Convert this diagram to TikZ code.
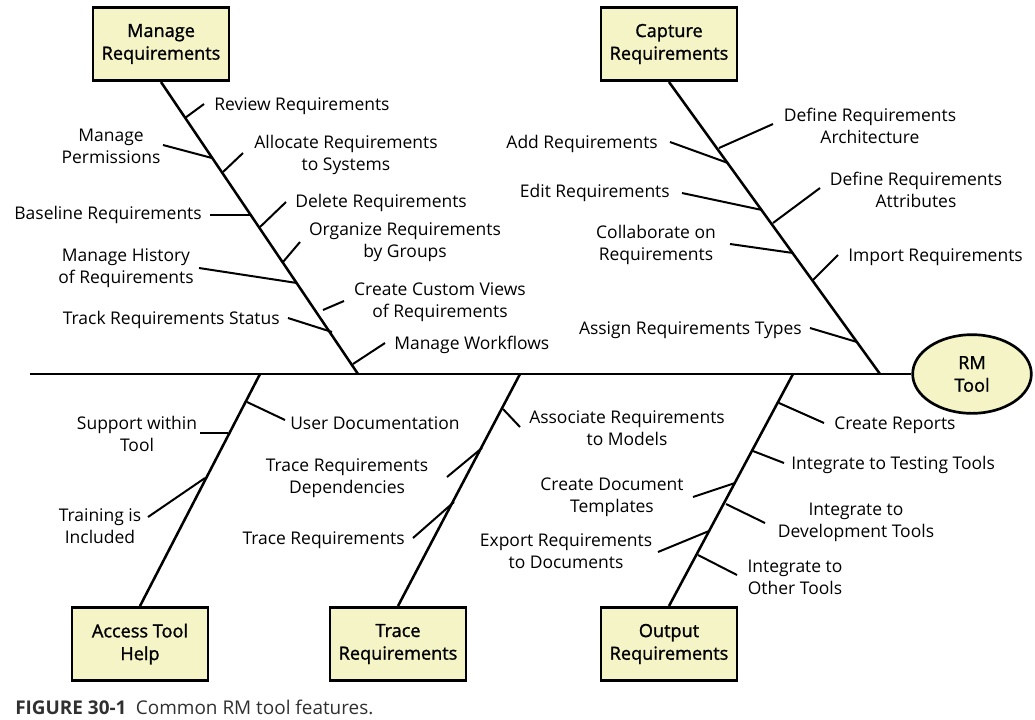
\documentclass[tikz,border=0pt]{standalone}
\usepackage{fontspec}
\setmainfont{Open Sans}
\usetikzlibrary{shapes.geometric}
\definecolor{boxfill}{HTML}{F4F4C6}
\definecolor{capgray}{HTML}{303030}
\newcommand{\featfont}{\fontsize{13.1}{16.5}\selectfont}
\newcommand{\headfont}{\fontsize{13.6}{17}\selectfont\addfontfeatures{FakeBold=1.3}}
\newcommand{\capfont}{\fontsize{14.2}{17}\selectfont}

\begin{document}
\begin{tikzpicture}[x=0.75pt,y=-0.75pt,
  causebox/.style={draw=black, line width=2pt, fill=boxfill, minimum width=102pt, minimum height=55pt, inner sep=0pt, align=center, font=\headfont},
  rmtool/.style={ellipse, draw=black, line width=2pt, fill=boxfill, minimum width=89pt, minimum height=59pt, inner sep=0pt, align=center, font=\headfont},
  spine/.style={line width=2pt},
  bone/.style={line width=1.9pt},
  tick/.style={line width=1.5pt},
  lbl/.style={inner sep=0pt, align=center, font=\featfont, text=black, yshift=-1.5pt}]
\useasboundingbox (0,0) rectangle (1035,719);

% head and spine
\node[rmtool] (rm) at (972,374) {RM\\Tool};
\coordinate (tail) at (30,374);
\draw[spine] (tail) -- (rm.west);

% cause boxes
\node[causebox] (mr) at (161,44) {Manage\\Requirements};
\node[causebox] (cr) at (669,44) {Capture\\Requirements};
\node[causebox] (ath) at (140,644) {Access Tool\\Help};
\node[causebox] (tr) at (398,644) {Trace\\Requirements};
\node[causebox] (or) at (669,644) {Output\\Requirements};

% bones
\coordinate (mrS) at (358,374);
\coordinate (crS) at (880,374);
\coordinate (athS) at (260,374);
\coordinate (trS) at (520,374);
\coordinate (orS) at (793,374);
\draw[bone] (mr.south) -- (mrS);
\draw[bone] (cr.south) -- (crS);
\draw[bone] (ath.north) -- (athS);
\draw[bone] (tr.north) -- (trS);
\draw[bone] (or.north) -- (orS);

% Manage Requirements
\node[lbl, anchor=west] (rvw) at (214,104) {Review Requirements};
\coordinate (rvwA) at (185,118); \coordinate (rvwB) at (204,104);
\draw[tick] (rvwA) -- (rvwB);
\node[lbl] (alloc) at (346,153) {Allocate Requirements\\to Systems};
\coordinate (allocA) at (223,172); \coordinate (allocB) at (243,153);
\draw[tick] (allocA) -- (allocB);
\node[lbl, anchor=west] (del) at (295,201) {Delete Requirements};
\coordinate (delA) at (260,227); \coordinate (delB) at (286,202);
\draw[tick] (delA) -- (delB);
\node[lbl] (org) at (405,240) {Organize Requirements\\by Groups};
\coordinate (orgA) at (283,262); \coordinate (orgB) at (300,242);
\draw[tick] (orgA) -- (orgB);
\node[lbl] (cust) at (440,300) {Create Custom Views\\of Requirements};
\coordinate (custA) at (323,310); \coordinate (custB) at (344,301);
\draw[tick] (custA) -- (custB);
\node[lbl, anchor=west] (wf) at (394,343) {Manage Workflows};
\coordinate (wfA) at (353,364); \coordinate (wfB) at (385,343);
\draw[tick] (wfA) -- (wfB);
\node[lbl] (perm) at (111,144) {Manage\\Permissions};
\coordinate (permA) at (212,158); \coordinate (permB) at (163,145);
\draw[tick] (permA) -- (permB);
\node[lbl, anchor=east] (base) at (202,213) {Baseline Requirements};
\coordinate (baseA) at (252,215); \coordinate (baseB) at (210,215);
\draw[tick] (baseA) -- (baseB);
\node[lbl] (hist) at (126,266) {Manage History\\of Requirements};
\coordinate (histA) at (297,283); \coordinate (histB) at (199,268);
\draw[tick] (histA) -- (histB);
\node[lbl, anchor=east] (stat) at (280,318) {Track Requirements Status};
\coordinate (statA) at (332,332); \coordinate (statB) at (288,318);
\draw[tick] (statA) -- (statB);

% Capture Requirements
\node[lbl] (arch) at (870,124) {Define Requirements\\Architecture};
\coordinate (archA) at (719,148); \coordinate (archB) at (773,124);
\draw[tick] (archA) -- (archB);
\node[lbl] (attr) at (916,188) {Define Requirements\\Attributes};
\coordinate (attrA) at (773,223); \coordinate (attrB) at (820,188);
\draw[tick] (attrA) -- (attrB);
\node[lbl, anchor=west] (imp) at (848,255) {Import Requirements};
\coordinate (impA) at (813,280); \coordinate (impB) at (838,255);
\draw[tick] (impA) -- (impB);
\node[lbl, anchor=east] (add) at (658,142) {Add Requirements};
\coordinate (addA) at (728,163); \coordinate (addB) at (670,142);
\draw[tick] (addA) -- (addB);
\node[lbl, anchor=east] (edit) at (670,191) {Edit Requirements};
\coordinate (editA) at (762,210); \coordinate (editB) at (682,193);
\draw[tick] (editA) -- (editB);
\node[lbl] (collab) at (656,243) {Collaborate on\\Requirements};
\coordinate (collabA) at (793,253); \coordinate (collabB) at (730,244);
\draw[tick] (collabA) -- (collabB);
\node[lbl, anchor=east] (types) at (802,328) {Assign Requirements Types};
\coordinate (typesA) at (857,342); \coordinate (typesB) at (810,328);
\draw[tick] (typesA) -- (typesB);

% Access Tool Help
\node[lbl, anchor=west] (udoc) at (290,421) {User Documentation};
\coordinate (udocA) at (247,402); \coordinate (udocB) at (285,420);
\draw[tick] (udocA) -- (udocB);
\node[lbl] (supp) at (137,432) {Support within\\Tool};
\coordinate (suppA) at (228,433); \coordinate (suppB) at (200,433);
\draw[tick] (suppA) -- (suppB);
\node[lbl] (train) at (100,524) {Training is\\Included};
\coordinate (trainA) at (205,478); \coordinate (trainB) at (148,517);
\draw[tick] (trainA) -- (trainB);

% Trace Requirements
\node[lbl] (assoc) at (627,426) {Associate Requirements\\to Models};
\coordinate (assocA) at (503,409); \coordinate (assocB) at (520,427);
\draw[tick] (assocA) -- (assocB);
\node[lbl] (dep) at (347,476) {Trace Requirements\\Dependencies};
\coordinate (depA) at (482,448); \coordinate (depB) at (447,477);
\draw[tick] (depA) -- (depB);
\node[lbl, anchor=east] (trc) at (405,538) {Trace Requirements};
\coordinate (trcA) at (454,502); \coordinate (trcB) at (413,538);
\draw[tick] (trcA) -- (trcB);

% Output Requirements
\node[lbl, anchor=west] (rep) at (834,423) {Create Reports};
\coordinate (repA) at (779,403); \coordinate (repB) at (824,423);
\draw[tick] (repA) -- (repB);
\node[lbl, anchor=west] (test) at (791,463) {Integrate to Testing Tools};
\coordinate (testA) at (753,451); \coordinate (testB) at (784,463);
\draw[tick] (testA) -- (testB);
\node[lbl] (tmpl) at (612,495) {Create Document\\Templates};
\coordinate (tmplA) at (735,483); \coordinate (tmplB) at (693,497);
\draw[tick] (tmplA) -- (tmplB);
\node[lbl] (dev) at (856,520) {Integrate to\\Development Tools};
\coordinate (devA) at (726,504); \coordinate (devB) at (765,523);
\draw[tick] (devA) -- (devB);
\node[lbl] (exp) at (566,549) {Export Requirements\\to Documents};
\coordinate (expA) at (709,531); \coordinate (expB) at (658,552);
\draw[tick] (expA) -- (expB);
\node[lbl] (oth) at (795,575) {Integrate to\\Other Tools};
\coordinate (othA) at (698,555); \coordinate (othB) at (737,575);
\draw[tick] (othA) -- (othB);

% caption
\node[anchor=base west, inner sep=0pt, font=\capfont, text=capgray] (cap) at (15,714.5) {\textbf{FIGURE 30-1}\hspace{0.5em}Common RM tool features.};
\end{tikzpicture}
\end{document}
